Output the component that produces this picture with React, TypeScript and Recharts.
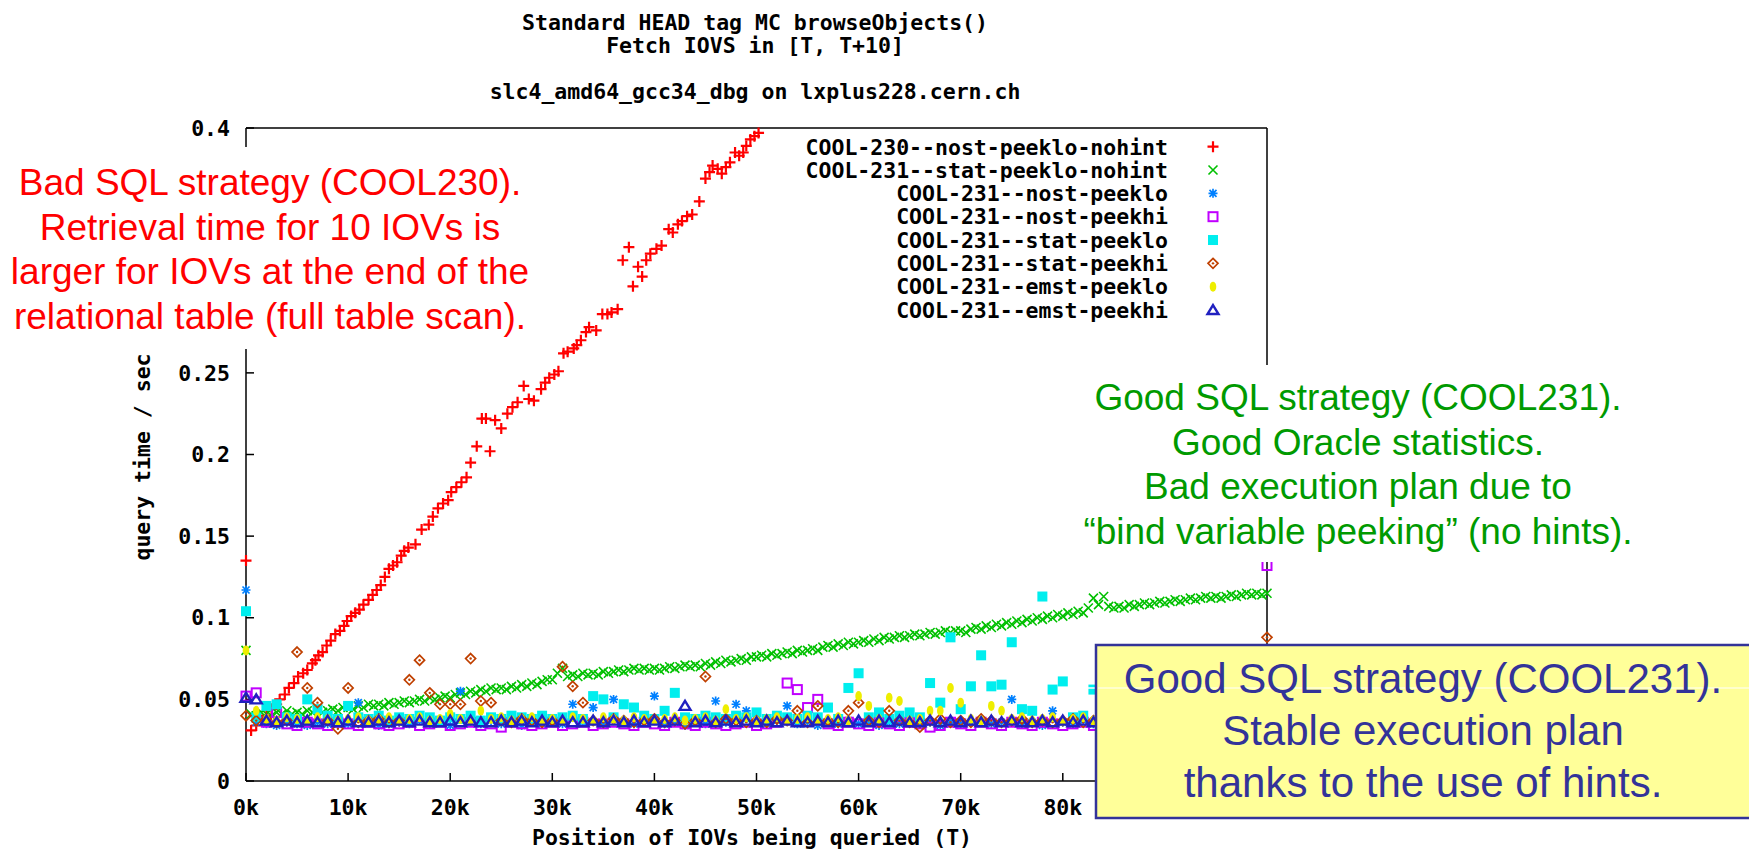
import React from "react";
import { ScatterChart, Scatter, XAxis, YAxis } from "recharts";

// query time (s) vs position of IOVs (in thousands)
const xTicks = [0, 10, 20, 30, 40, 50, 60, 70, 80, 90, 100];
const yTicks = [0, 0.05, 0.1, 0.15, 0.2, 0.25, 0.3, 0.35, 0.4];
// labels that sit under the notes in the original plot
const hiddenX = [90, 100];
const hiddenY = [0.3, 0.35];

const titleLines = [
  "Standard HEAD tag MC browseObjects()",
  "Fetch IOVS in [T, T+10]",
  "slc4_amd64_gcc34_dbg on lxplus228.cern.ch",
];

// positions every 1k
const tGrid = [
  0, 1, 2, 3, 4, 5, 6, 7, 8, 9, 10, 11, 12, 13, 14, 15, 16, 17, 18, 19,
  20, 21, 22, 23, 24, 25, 26, 27, 28, 29, 30, 31, 32, 33, 34, 35, 36, 37, 38, 39,
  40, 41, 42, 43, 44, 45, 46, 47, 48, 49, 50, 51, 52, 53, 54, 55, 56, 57, 58, 59,
  60, 61, 62, 63, 64, 65, 66, 67, 68, 69, 70, 71, 72, 73, 74, 75, 76, 77, 78, 79,
  80, 81, 82, 83, 84, 85, 86, 87, 88, 89, 90, 91, 92, 93, 94, 95, 96, 97, 98, 99, 100,
];

// positions every 0.5k
const tHalf = [
  0, 0.5, 1, 1.5, 2, 2.5, 3, 3.5, 4, 4.5, 5, 5.5, 6, 6.5, 7, 7.5, 8, 8.5, 9, 9.5,
  10, 10.5, 11, 11.5, 12, 12.5, 13, 13.5, 14, 14.5, 15, 15.5, 16, 16.5, 17, 17.5, 18, 18.5, 19, 19.5,
  20, 20.5, 21, 21.5, 22, 22.5, 23, 23.5, 24, 24.5, 25, 25.5, 26, 26.5, 27, 27.5, 28, 28.5, 29, 29.5,
  30, 30.5, 31, 31.5, 32, 32.5, 33, 33.5, 34, 34.5, 35, 35.5, 36, 36.5, 37, 37.5, 38, 38.5, 39, 39.5,
  40, 40.5, 41, 41.5, 42, 42.5, 43, 43.5, 44, 44.5, 45, 45.5, 46, 46.5, 47, 47.5, 48, 48.5, 49, 49.5,
  50, 50.5, 51, 51.5, 52, 52.5, 53, 53.5, 54, 54.5, 55, 55.5, 56, 56.5, 57, 57.5, 58, 58.5, 59, 59.5,
  60, 60.5, 61, 61.5, 62, 62.5, 63, 63.5, 64, 64.5, 65, 65.5, 66, 66.5, 67, 67.5, 68, 68.5, 69, 69.5,
  70, 70.5, 71, 71.5, 72, 72.5, 73, 73.5, 74, 74.5, 75, 75.5, 76, 76.5, 77, 77.5, 78, 78.5, 79, 79.5,
  80, 80.5, 81, 81.5, 82, 82.5, 83, 83.5, 84, 84.5, 85, 85.5, 86, 86.5, 87, 87.5, 88, 88.5, 89, 89.5,
  90, 90.5, 91, 91.5, 92, 92.5, 93, 93.5, 94, 94.5, 95, 95.5, 96, 96.5, 97, 97.5, 98, 98.5, 99, 99.5, 100,
];

// COOL-230--nost-peeklo-nohint : [position (k), seconds]
const cool230: [number, number][] = [
  [0, 0.135], [0.5, 0.031], [1, 0.034], [1.5, 0.037], [2, 0.04], [2.5, 0.044], [3, 0.047], [3.3, 0.05],
  [3.8, 0.053], [4.2, 0.057], [4.7, 0.06], [5.1, 0.064], [5.6, 0.066], [6, 0.068], [6.5, 0.072], [6.8, 0.074],
  [7.1, 0.077], [7.5, 0.079], [7.9, 0.083], [8.3, 0.086], [8.75, 0.09], [9.2, 0.092], [9.6, 0.095], [9.9, 0.098],
  [10.3, 0.101], [10.7, 0.103], [11.1, 0.105], [11.5, 0.108], [12, 0.111], [12.4, 0.114], [12.8, 0.117], [13.2, 0.12],
  [13.6, 0.125], [14, 0.13], [14.4, 0.132], [14.8, 0.134], [15.2, 0.138], [15.5, 0.141], [15.9, 0.143], [16.6, 0.145],
  [17.2, 0.154], [17.9, 0.157], [18.3, 0.162], [18.8, 0.167], [19.3, 0.17], [19.8, 0.172], [20.1, 0.177], [20.6, 0.18],
  [21.1, 0.183], [21.6, 0.186], [22, 0.195], [22.6, 0.205], [23.1, 0.222], [23.5, 0.222], [23.9, 0.202], [24.4, 0.221],
  [25, 0.216], [25.6, 0.225], [26.1, 0.229], [26.6, 0.232], [27.2, 0.242], [27.7, 0.234], [28.2, 0.233], [28.9, 0.24],
  [29.3, 0.244], [29.7, 0.247], [30.2, 0.249], [30.6, 0.251], [31.1, 0.262], [31.5, 0.263], [32.1, 0.265], [32.4, 0.267],
  [32.8, 0.27], [33.3, 0.275], [33.6, 0.278], [34.3, 0.276], [34.9, 0.286], [35.4, 0.286], [35.8, 0.287], [36.4, 0.289],
  [36.9, 0.319], [37.5, 0.327], [37.9, 0.303], [38.4, 0.315], [38.8, 0.309], [39.2, 0.319], [39.6, 0.323], [40.2, 0.326],
  [40.7, 0.328], [41.4, 0.338], [41.8, 0.336], [42.3, 0.341], [42.7, 0.343], [43.2, 0.346], [43.7, 0.347], [44.4, 0.355],
  [45, 0.369], [45.4, 0.373], [45.7, 0.377], [46.2, 0.375], [46.6, 0.372], [47, 0.376], [47.4, 0.379], [47.9, 0.385],
  [48.3, 0.383], [48.7, 0.385], [49, 0.389], [49.4, 0.393], [49.8, 0.395], [50.2, 0.397],
];

// COOL-231--stat-peeklo-nohint (on tHalf)
const statNohint = [
  0.08, 0.041, 0.04, 0.042, 0.041, 0.04, 0.042, 0.041, 0.043, 0.041,
  0.042, 0.041, 0.043, 0.042, 0.044, 0.042, 0.043, 0.044, 0.043, 0.045,
  0.045, 0.044, 0.046, 0.045, 0.047, 0.046, 0.047, 0.046, 0.048, 0.047,
  0.048, 0.049, 0.048, 0.049, 0.05, 0.049, 0.051, 0.05, 0.051, 0.052,
  0.051, 0.053, 0.054, 0.053, 0.055, 0.054, 0.056, 0.055, 0.057, 0.056,
  0.057, 0.056, 0.058, 0.057, 0.059, 0.058, 0.06, 0.059, 0.061, 0.062,
  0.062, 0.066, 0.069, 0.064, 0.065, 0.064, 0.066, 0.065, 0.066, 0.065,
  0.067, 0.066, 0.067, 0.068, 0.067, 0.068, 0.069, 0.068, 0.069, 0.068,
  0.069, 0.068, 0.069, 0.07, 0.069, 0.07, 0.071, 0.07, 0.071, 0.07,
  0.072, 0.071, 0.073, 0.072, 0.074, 0.073, 0.074, 0.075, 0.074, 0.076,
  0.076, 0.077, 0.076, 0.078, 0.077, 0.078, 0.079, 0.078, 0.08, 0.079,
  0.08, 0.081, 0.08, 0.082, 0.083, 0.082, 0.084, 0.083, 0.085, 0.084,
  0.085, 0.086, 0.085, 0.087, 0.086, 0.088, 0.087, 0.088, 0.089, 0.088,
  0.089, 0.09, 0.089, 0.09, 0.091, 0.09, 0.091, 0.092, 0.091, 0.092,
  0.092, 0.091, 0.093, 0.094, 0.093, 0.095, 0.094, 0.096, 0.095, 0.097,
  0.096, 0.098, 0.097, 0.099, 0.098, 0.1, 0.099, 0.101, 0.1, 0.102,
  0.101, 0.103, 0.102, 0.104, 0.103, 0.106, 0.112, 0.108, 0.113, 0.107,
  0.106, 0.107, 0.106, 0.108, 0.107, 0.108, 0.109, 0.108, 0.109, 0.11,
  0.109, 0.11, 0.111, 0.11, 0.111, 0.112, 0.111, 0.112, 0.113, 0.112,
  0.113, 0.112, 0.113, 0.114, 0.113, 0.114, 0.115, 0.114, 0.115, 0.114,
  0.115,
];

// the rest on tGrid
const nostPeeklo = [
  0.117, 0.036, 0.035, 0.034, 0.036, 0.035, 0.034, 0.036, 0.035, 0.037,
  0.035, 0.048, 0.036, 0.034, 0.035, 0.036, 0.035, 0.037, 0.035, 0.036,
  0.034, 0.055, 0.036, 0.035, 0.037, 0.035, 0.036, 0.034, 0.036, 0.035,
  0.036, 0.035, 0.047, 0.036, 0.045, 0.035, 0.05, 0.036, 0.035, 0.037,
  0.052, 0.035, 0.036, 0.034, 0.036, 0.035, 0.049, 0.036, 0.047, 0.043,
  0.036, 0.035, 0.037, 0.046, 0.035, 0.036, 0.034, 0.036, 0.035, 0.037,
  0.035, 0.036, 0.034, 0.036, 0.035, 0.037, 0.035, 0.036, 0.034, 0.036,
  0.035, 0.036, 0.037, 0.035, 0.036, 0.05, 0.035, 0.036, 0.034, 0.043,
  0.036, 0.035, 0.037, 0.035, 0.036, 0.034, 0.036, 0.035, 0.037, 0.035,
  0.036, 0.035, 0.034, 0.036, 0.035, 0.037, 0.035, 0.036, 0.034, 0.036,
  0.035,
];

const nostPeekhi = [
  0.052, 0.054, 0.036, 0.042, 0.035, 0.034, 0.036, 0.035, 0.034, 0.036,
  0.035, 0.034, 0.036, 0.035, 0.034, 0.035, 0.036, 0.034, 0.035, 0.036,
  0.034, 0.035, 0.036, 0.034, 0.035, 0.033, 0.036, 0.035, 0.034, 0.035,
  0.036, 0.034, 0.035, 0.036, 0.034, 0.035, 0.036, 0.035, 0.034, 0.036,
  0.035, 0.034, 0.036, 0.035, 0.034, 0.036, 0.035, 0.034, 0.035, 0.036,
  0.034, 0.035, 0.036, 0.06, 0.056, 0.045, 0.05, 0.035, 0.034, 0.036,
  0.035, 0.034, 0.036, 0.035, 0.034, 0.036, 0.035, 0.033, 0.034, 0.036,
  0.035, 0.034, 0.036, 0.035, 0.034, 0.036, 0.035, 0.034, 0.036, 0.035,
  0.034, 0.035, 0.036, 0.034, 0.035, 0.036, 0.034, 0.035, 0.036, 0.034,
  0.035, 0.036, 0.034, 0.035, 0.036, 0.034, 0.035, 0.036, 0.034, 0.035,
  0.132,
];

const statPeeklo = [
  0.104, 0.039, 0.046, 0.047, 0.039, 0.038, 0.05, 0.044, 0.04, 0.038,
  0.046, 0.039, 0.038, 0.04, 0.037, 0.039, 0.038, 0.04, 0.039, 0.037,
  0.039, 0.038, 0.04, 0.037, 0.039, 0.038, 0.04, 0.039, 0.038, 0.04,
  0.038, 0.039, 0.04, 0.038, 0.052, 0.05, 0.039, 0.047, 0.045, 0.04,
  0.038, 0.043, 0.054, 0.039, 0.038, 0.04, 0.039, 0.038, 0.04, 0.039,
  0.042, 0.038, 0.04, 0.039, 0.038, 0.04, 0.039, 0.045, 0.038, 0.057,
  0.066, 0.039, 0.042, 0.038, 0.04, 0.042, 0.039, 0.06, 0.048, 0.088,
  0.044, 0.058, 0.077, 0.058, 0.059, 0.085, 0.044, 0.043, 0.113, 0.056,
  0.061, 0.039, 0.04, 0.056, 0.038, 0.04, 0.039, 0.038, 0.04, 0.039,
  0.038, 0.04, 0.039, 0.038, 0.04, 0.039, 0.038, 0.04, 0.039, 0.038,
  0.04,
];

const statPeekhi = [
  0.04, 0.037, 0.038, 0.036, 0.037, 0.079, 0.057, 0.048, 0.037, 0.032,
  0.057, 0.036, 0.037, 0.038, 0.036, 0.037, 0.062, 0.074, 0.054, 0.047,
  0.047, 0.047, 0.075, 0.049, 0.048, 0.037, 0.036, 0.038, 0.037, 0.036,
  0.037, 0.07, 0.058, 0.048, 0.037, 0.036, 0.038, 0.037, 0.036, 0.037,
  0.038, 0.036, 0.037, 0.035, 0.037, 0.064, 0.036, 0.038, 0.037, 0.036,
  0.037, 0.036, 0.038, 0.037, 0.043, 0.036, 0.046, 0.037, 0.036, 0.043,
  0.048, 0.037, 0.036, 0.043, 0.037, 0.036, 0.033, 0.037, 0.038, 0.036,
  0.037, 0.036, 0.038, 0.037, 0.036, 0.037, 0.038, 0.036, 0.037, 0.036,
  0.037, 0.038, 0.036, 0.037, 0.036, 0.038, 0.037, 0.036, 0.037, 0.038,
  0.036, 0.037, 0.038, 0.036, 0.037, 0.036, 0.038, 0.037, 0.036, 0.037,
  0.088,
];

const emstPeeklo = [
  0.08, 0.043, 0.038, 0.037, 0.039, 0.038, 0.037, 0.039, 0.038, 0.037,
  0.038, 0.039, 0.037, 0.038, 0.039, 0.037, 0.038, 0.039, 0.037, 0.038,
  0.041, 0.038, 0.037, 0.043, 0.038, 0.039, 0.037, 0.038, 0.039, 0.037,
  0.038, 0.037, 0.039, 0.038, 0.037, 0.039, 0.038, 0.037, 0.039, 0.038,
  0.037, 0.038, 0.039, 0.037, 0.038, 0.039, 0.037, 0.044, 0.038, 0.039,
  0.037, 0.038, 0.039, 0.037, 0.038, 0.039, 0.037, 0.038, 0.039, 0.037,
  0.052, 0.046, 0.038, 0.051, 0.049, 0.037, 0.038, 0.043, 0.043, 0.057,
  0.048, 0.038, 0.037, 0.046, 0.043, 0.038, 0.039, 0.037, 0.038, 0.039,
  0.037, 0.038, 0.039, 0.037, 0.038, 0.039, 0.037, 0.038, 0.039, 0.037,
  0.038, 0.039, 0.037, 0.038, 0.039, 0.037, 0.038, 0.039, 0.037, 0.038,
  0.039,
];

const emstPeekhi = [
  0.051, 0.05, 0.037, 0.036, 0.037, 0.036, 0.037, 0.036, 0.037, 0.036,
  0.037, 0.036, 0.036, 0.037, 0.036, 0.037, 0.036, 0.037, 0.036, 0.036,
  0.037, 0.036, 0.037, 0.036, 0.036, 0.037, 0.036, 0.037, 0.036, 0.037,
  0.036, 0.037, 0.036, 0.036, 0.037, 0.036, 0.037, 0.036, 0.037, 0.036,
  0.037, 0.036, 0.037, 0.046, 0.036, 0.037, 0.036, 0.037, 0.036, 0.037,
  0.036, 0.037, 0.036, 0.037, 0.036, 0.036, 0.037, 0.036, 0.037, 0.036,
  0.037, 0.036, 0.037, 0.036, 0.037, 0.036, 0.036, 0.037, 0.036, 0.037,
  0.036, 0.037, 0.036, 0.037, 0.036, 0.037, 0.036, 0.036, 0.037, 0.036,
  0.037, 0.036, 0.037, 0.036, 0.037, 0.036, 0.037, 0.036, 0.036, 0.037,
  0.036, 0.037, 0.036, 0.037, 0.036, 0.037, 0.036, 0.037, 0.036, 0.037,
  0.036,
];

const redNote = [
  "Bad SQL strategy (COOL230).",
  "Retrieval time for 10 IOVs is",
  "larger for IOVs at the end of the",
  "relational table (full table scan).",
];
const greenNote = [
  "Good SQL strategy (COOL231).",
  "Good Oracle statistics.",
  "Bad execution plan due to",
  "\u201Cbind variable peeking\u201D (no hints).",
];
const blueNote = [
  "Good SQL strategy (COOL231).",
  "Stable execution plan",
  "thanks to the use of hints.",
];

const mono = "'DejaVu Sans Mono', monospace";
const sans = "'Liberation Sans', Arial, sans-serif";

type Mark = (x: number, y: number) => React.ReactElement;

const plus: Mark = (x, y) => (
  <path d={`M${x - 5.5},${y}h11M${x},${y - 5.5}v11`} stroke="#ff0000" strokeWidth={2.2} fill="none" />
);
const cross: Mark = (x, y) => (
  <path d={`M${x - 4.5},${y - 4.5}l9,9M${x - 4.5},${y + 4.5}l9,-9`} stroke="#00c000" strokeWidth={1.6} fill="none" />
);
const star: Mark = (x, y) => (
  <path
    d={`M${x - 4.5},${y}h9M${x},${y - 4.5}v9M${x - 3.5},${y - 3.5}l7,7M${x - 3.5},${y + 3.5}l7,-7`}
    stroke="#0080ff"
    strokeWidth={1.7}
    fill="none"
  />
);
const box: Mark = (x, y) => (
  <rect x={x - 4.5} y={y - 4.5} width={9} height={9} stroke="#c000ff" strokeWidth={2} fill="none" />
);
const fbox: Mark = (x, y) => <rect x={x - 5} y={y - 5} width={10} height={10} fill="#00eeee" />;
const diamond: Mark = (x, y) => (
  <g>
    <path d={`M${x},${y - 5}l5,5l-5,5l-5,-5z`} stroke="#c04000" strokeWidth={1.7} fill="none" />
    <circle cx={x} cy={y} r={1.2} fill="#c04000" />
  </g>
);
const oval: Mark = (x, y) => <ellipse cx={x} cy={y} rx={3.3} ry={5} fill="#eeee00" />;
const tri: Mark = (x, y) => (
  <path d={`M${x},${y - 5}l5.5,9l-11,0z`} stroke="#2020c0" strokeWidth={2.4} fill="none" />
);

const pts = (ts: number[], vs: number[]) => ts.map((t, i) => ({ t, v: vs[i] }));

const series = [
  { name: "COOL-230--nost-peeklo-nohint", data: cool230.map(([t, v]) => ({ t, v })), mark: plus },
  { name: "COOL-231--stat-peeklo-nohint", data: pts(tHalf, statNohint), mark: cross },
  { name: "COOL-231--nost-peeklo", data: pts(tGrid, nostPeeklo), mark: star },
  { name: "COOL-231--nost-peekhi", data: pts(tGrid, nostPeekhi), mark: box },
  { name: "COOL-231--stat-peeklo", data: pts(tGrid, statPeeklo), mark: fbox },
  { name: "COOL-231--stat-peekhi", data: pts(tGrid, statPeekhi), mark: diamond },
  { name: "COOL-231--emst-peeklo", data: pts(tGrid, emstPeeklo), mark: oval },
  { name: "COOL-231--emst-peekhi", data: pts(tGrid, emstPeekhi), mark: tri },
];

const tickFont = { fontFamily: mono, fontSize: 21.5, fontWeight: "bold", fill: "#000" };
const frame = { stroke: "#000", strokeWidth: 1.5 };

export default function App() {
  return (
    <div style={{ position: "absolute", left: 0, top: 0, width: 1749, height: 851, background: "#fff" }}>
      <ScatterChart width={1749} height={851} margin={{ top: 118, right: 472, bottom: 10, left: 186 }}>
        <XAxis
          xAxisId="b"
          type="number"
          dataKey="t"
          domain={[0, 100]}
          ticks={xTicks}
          tickFormatter={(v) => (hiddenX.includes(v) ? "" : `${v}k`)}
          height={60}
          tickSize={-8}
          tickMargin={27}
          axisLine={frame}
          tickLine={frame}
          tick={tickFont}
          interval={0}
        />
        <XAxis
          xAxisId="top"
          orientation="top"
          type="number"
          domain={[0, 100]}
          ticks={xTicks}
          height={10}
          tickSize={-8}
          axisLine={frame}
          tickLine={frame}
          tick={tickFont}
          tickFormatter={() => ""}
          interval={0}
        />
        <YAxis
          yAxisId="l"
          type="number"
          dataKey="v"
          domain={[0, 0.4]}
          ticks={yTicks}
          tickFormatter={(v) => (hiddenY.includes(v) ? "" : String(v))}
          width={60}
          tickSize={-8}
          tickMargin={24}
          axisLine={frame}
          tickLine={frame}
          tick={tickFont}
          interval={0}
        />
        <YAxis
          yAxisId="r"
          orientation="right"
          type="number"
          domain={[0, 0.4]}
          ticks={yTicks}
          width={10}
          tickSize={-8}
          axisLine={frame}
          tickLine={frame}
          tick={tickFont}
          tickFormatter={() => ""}
          interval={0}
        />
        {series.map((s) => (
          <Scatter
            key={s.name}
            name={s.name}
            xAxisId="b"
            yAxisId="l"
            data={s.data}
            isAnimationActive={false}
            shape={(p: any) => s.mark(p.cx, p.cy)}
          />
        ))}
      </ScatterChart>

      <svg width={1749} height={851} style={{ position: "absolute", left: 0, top: 0, pointerEvents: "none" }}>
        <g fontFamily={mono} fontWeight="bold" fontSize={21.5} fill="#000">
          {titleLines.map((s, i) => (
            <text key={s} x={755} y={[30, 53, 99][i]} textAnchor="middle">
              {s}
            </text>
          ))}
          <text x={752} y={845} textAnchor="middle">
            Position of IOVs being queried (T)
          </text>
          <text transform="translate(150,457) rotate(-90)" textAnchor="middle">
            query time / sec
          </text>
          {series.map((s, i) => (
            <g key={s.name}>
              <text x={1168} y={154.5 + i * 23.33} textAnchor="end">
                {s.name}
              </text>
              {s.mark(1213, 146.7 + i * 23.33)}
            </g>
          ))}
        </g>

        <rect x={0} y={147} width={535} height={202} fill="#fff" />
        <g fontFamily={sans} fontSize={37} fill="#ff0000" textAnchor="middle">
          {redNote.map((s, i) => (
            <text key={s} x={270} y={195 + i * 44.5}>
              {s}
            </text>
          ))}
        </g>

        <rect x={1078} y={365} width={615} height={197} fill="#fff" />
        <g fontFamily={sans} fontSize={37} fill="#009a00" textAnchor="middle">
          {greenNote.map((s, i) => (
            <text key={s} x={1358} y={410 + i * 44.5}>
              {s}
            </text>
          ))}
        </g>

        <line x1={1088} y1={688} x2={1098} y2={688} stroke="#fff" strokeWidth={1.5} />
        <rect x={1096} y={645} width={680} height={173} fill="#ffff99" stroke="#333399" strokeWidth={2.5} />
        <line x1={1098} y1={688} x2={1749} y2={688} stroke="#fff" strokeWidth={1.2} />
        <g fontFamily={sans} fontSize={42} fill="#333399" textAnchor="middle">
          {blueNote.map((s, i) => (
            <text key={s} x={1423} y={693 + i * 52}>
              {s}
            </text>
          ))}
        </g>
      </svg>
    </div>
  );
}
